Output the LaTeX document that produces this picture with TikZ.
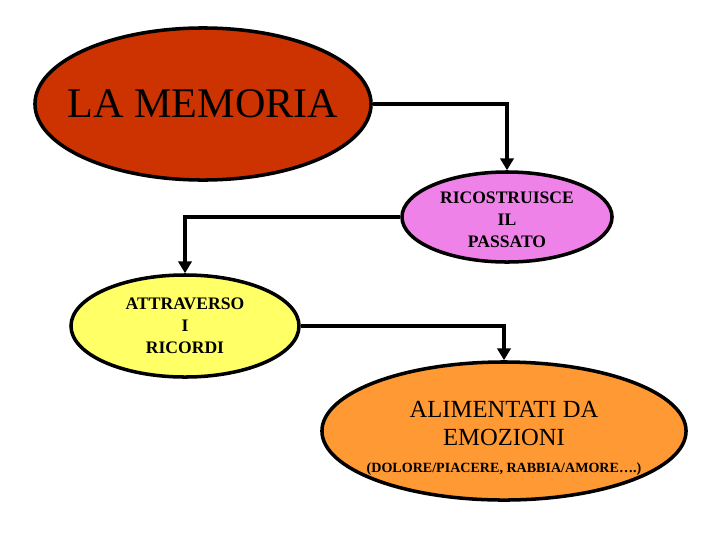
\documentclass[tikz,border=0pt]{standalone}
\usepackage{fontspec}
\setmainfont{Liberation Serif}
\usetikzlibrary{arrows.meta,shapes.geometric}
\definecolor{memred}{RGB}{204,51,0}
\definecolor{ricviolet}{RGB}{238,130,232}
\definecolor{attyellow}{RGB}{255,255,102}
\definecolor{aliorange}{RGB}{255,153,51}
\tikzset{
%Define standard arrow tip
>={Triangle[length=8.5pt,width=9.5pt]},
%Define styles for the bubbles, their texts and the links
bubble/.style={ellipse, draw=black, line width=2.5pt, inner sep=0pt},
bubbletext/.style={inner sep=0pt, align=center},
link/.style={->, line width=3.5pt},
}

\begin{document}
\begin{tikzpicture}[x=0.025cm, y=-0.025cm]
    \useasboundingbox (0,0) rectangle (720,540);

    % bubbles
    \node[bubble, fill=memred, minimum width=8.4cm, minimum height=3.8cm] (mem) at (203,104) {};
    \node[bubble, fill=ricviolet, minimum width=5.25cm, minimum height=2.25cm] (ric) at (507,217) {};
    \node[bubble, fill=attyellow, minimum width=5.7cm, minimum height=2.55cm] (att) at (185,326) {};
    \node[bubble, fill=aliorange, minimum width=9.1cm, minimum height=3.45cm] (ali) at (504,431) {};

    % texts
    \node[bubbletext, font=\fontsize{30}{34}\selectfont] (memtext) at (mem) {LA MEMORIA};
    \node[bubbletext, font=\fontsize{12.5}{15.5}\selectfont\bfseries] (rictext) at ([yshift=-2pt]ric) {RICOSTRUISCE\\IL\\PASSATO};
    \node[bubbletext, font=\fontsize{12.5}{15.5}\selectfont\bfseries] (atttext) at (att) {ATTRAVERSO\\I\\RICORDI};
    \node[bubbletext, font=\fontsize{17.5}{20}\selectfont] (alitext) at ([yshift=-5.3pt]ali)
        {ALIMENTATI DA\\EMOZIONI\\[-0.5pt]{\fontsize{10}{12}\selectfont\bfseries (DOLORE/PIACERE, RABBIA/AMORE….)}};

    % links
    \draw[link] (mem.east) -| (ric.north);
    \draw[link] (ric.west) -| (att.north);
    \draw[link] (att.east) -| (ali.north);
\end{tikzpicture}
\end{document}
